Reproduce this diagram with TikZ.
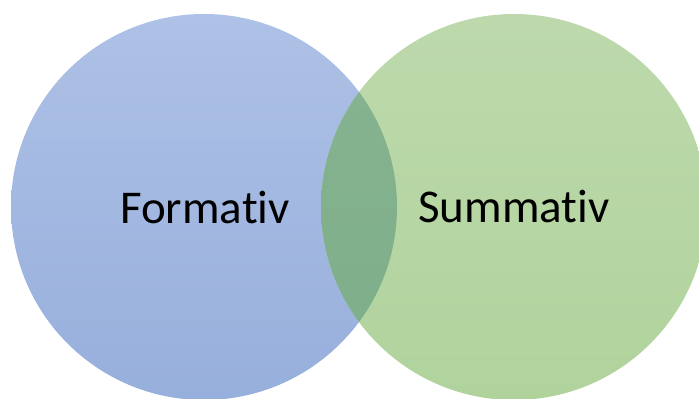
\documentclass[tikz,border=0pt]{standalone}
\usepackage{fontspec}
\setmainfont{Carlito}[Ligatures=NoCommon]
\definecolor{blueTop}{HTML}{AEC1E6}
\definecolor{blueBot}{HTML}{97AFDC}
\definecolor{greenTop}{HTML}{BDD9AC}
\definecolor{greenBot}{HTML}{B0D39C}
\definecolor{mixTop}{HTML}{87B491}
\definecolor{mixBot}{HTML}{7DAD89}
\begin{document}
\begin{tikzpicture}[x=1pt,y=-1pt,
  label/.style={font=\fontsize{47}{54}\selectfont, text=black, inner sep=0pt, anchor=base}]
  \useasboundingbox (0,0) rectangle (699,399);
  % the two sets
  \shade[top color=blueTop, bottom color=blueBot] (204,207) circle[radius=193];
  \shade[top color=greenTop, bottom color=greenBot] (514,207) circle[radius=193];
  % their intersection
  \begin{scope}
    \clip (204,207) circle[radius=193];
    \shade[top color=mixTop, bottom color=mixBot] (514,207) circle[radius=193];
  \end{scope}
  \node[label] (formativ) at (205,223) {Formativ};
  \node[label] (summativ) at (514,222) {Summativ};
\end{tikzpicture}
\end{document}
